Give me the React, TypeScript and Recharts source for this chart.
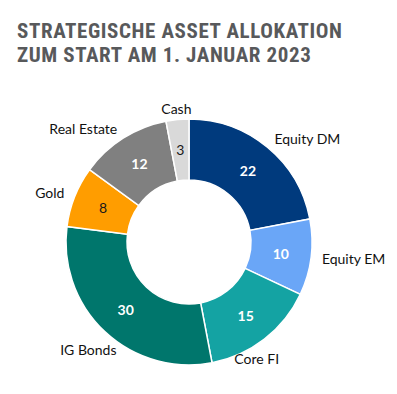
import { PieChart, Pie, Cell } from 'recharts'

const categories = ['Equity DM', 'Equity EM', 'Core FI', 'IG Bonds', 'Gold', 'Real Estate', 'Cash']
const weights = [22, 10, 15, 30, 8, 12, 3]
const colors = ['#003A7D', '#6AA6F7', '#14A3A3', '#00766C', '#FF9D00', '#808080', '#D9D9D9']
const darkText = ['Gold', 'Cash']

const data = categories.map((name, i) => ({ name, value: weights[i] }))

const RAD = Math.PI / 180
const labelFont = "Lato, 'Open Sans', sans-serif"

const renderLabel = (p: any) => {
  const { cx, cy, midAngle, innerRadius, outerRadius, name, value } = p
  const cos = Math.cos(-midAngle * RAD)
  const sin = Math.sin(-midAngle * RAD)
  const mr = (innerRadius + outerRadius) / 2
  const vx = cx + mr * cos
  const vy = cy + mr * sin
  // bottom labels sit a bit further out
  const lr = outerRadius + (sin > 0.6 ? 24 : 11)
  const lx = cx + lr * cos
  const ly = cy + lr * sin
  let anchor: 'start' | 'middle' | 'end' = cos > 0.3 ? 'start' : cos < -0.3 ? 'end' : 'middle'
  if (sin > 0.6) anchor = cos > 0 ? 'end' : 'middle'
  const dark = darkText.includes(name)
  return (
    <g>
      <text x={vx} y={vy} textAnchor="middle" dominantBaseline="central"
        fill={dark ? '#1a1a1a' : '#fff'} fontSize={14} fontWeight={dark ? 400 : 700} fontFamily={labelFont}>
        {value}
      </text>
      <text x={lx} y={ly} textAnchor={anchor} dominantBaseline="central"
        fill="#111" fontSize={14} fontFamily={labelFont}>
        {name}
      </text>
    </g>
  )
}

export default function App() {
  return (
    <div style={{ position: 'absolute', left: 0, top: 0, width: 397, height: 394, background: '#fff' }}>
      <div style={{
        position: 'absolute', left: 17, top: 19, color: '#58595B', fontWeight: 700, fontSize: 21,
        lineHeight: '24px', letterSpacing: 0.6,
        fontFamily: "'Liberation Sans Narrow', 'Roboto Condensed', Roboto, sans-serif",
      }}>
        <div>STRATEGISCHE ASSET ALLOKATION</div>
        <div>ZUM START AM 1. JANUAR 2023</div>
      </div>
      <PieChart width={397} height={394} margin={{ top: 0, right: 0, bottom: 0, left: 0 }}
        style={{ position: 'absolute', left: 0, top: 0 }}>
        <Pie data={data} dataKey="value" nameKey="name" cx={189} cy={242}
          innerRadius={62} outerRadius={123} startAngle={90} endAngle={-270}
          stroke="#fff" strokeWidth={1.5} label={renderLabel} labelLine={false}
          isAnimationActive={false}>
          {data.map((d, i) => <Cell key={d.name} fill={colors[i]} />)}
        </Pie>
      </PieChart>
    </div>
  )
}
